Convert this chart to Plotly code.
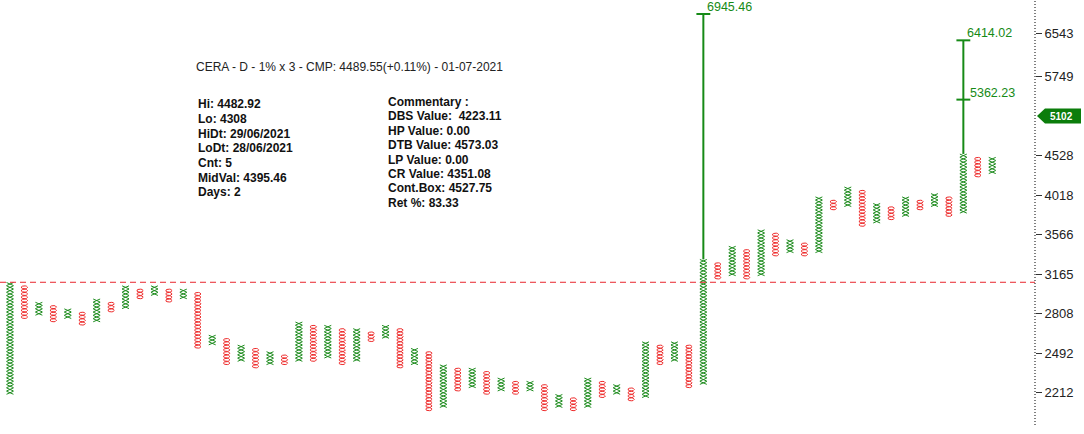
import math
import plotly.graph_objects as go

# ---------------- data ----------------
BOX_PCT = 1.0          # box size in percent
BASE_PRICE = 4308.0    # a known box level (Lo of last column)

col_type = ["X", "O"] * 34 + ["X"]
col_low = [2211, 2780, 2808, 2752, 2780, 2725, 2752, 2836, 2864, 2951, 2980, 2922, 2951,
           2542, 2567, 2418, 2443, 2394, 2418, 2418, 2443, 2443, 2467, 2418, 2443, 2593,
           2619, 2394, 2418, 2104, 2125, 2233, 2256, 2211, 2233, 2211, 2233, 2104, 2125,
           2104, 2125, 2189, 2211, 2168, 2189, 2418, 2443, 2256, 2279, 3132, 3164, 3132,
           3164, 3358, 3392, 3358, 3392, 3860, 3899, 3673, 3710, 3747, 3784, 3860, 3899,
           3784, 3822, 4265, 4308]
col_high = [3071, 3040, 2893, 2864, 2836, 2808, 2922, 2893, 3040, 3010, 3040, 3010, 3010,
            2980, 2619, 2593, 2542, 2517, 2492, 2467, 2725, 2698, 2698, 2672, 2672, 2645,
            2698, 2672, 2517, 2492, 2394, 2371, 2371, 2347, 2301, 2279, 2279, 2256, 2189,
            2168, 2301, 2279, 2256, 2233, 2567, 2542, 2567, 2542, 3292, 3260, 3426, 3392,
            3601, 3565, 3495, 3460, 3977, 3938, 4098, 4057, 3899, 3860, 3977, 3938, 4017,
            3977, 4528, 4483, 4483]

target_cols = [48, 66]
target_values = [[6945.46], [6414.02, 5362.23]]

ref_line_price = 3088
tag_price = 5102
tick_prices = [2212, 2492, 2808, 3165, 3566, 4018, 4528, 5749, 6543]

title_text = "CERA - D - 1% x 3 - CMP: 4489.55(+0.11%) - 01-07-2021"
left_lines = ["Hi: 4482.92", "Lo: 4308", "HiDt: 29/06/2021", "LoDt: 28/06/2021",
              "Cnt: 5", "MidVal: 4395.46", "Days: 2"]
right_lines = ["Commentary :", "DBS Value:  4223.11", "HP Value: 0.00", "DTB Value: 4573.03",
               "LP Value: 0.00", "CR Value: 4351.08", "Cont.Box: 4527.75", "Ret %: 83.33"]

# ---------------- construction ----------------
assert len(col_type) == len(col_low) == len(col_high)
R = 1 + BOX_PCT / 100.0
LNR = math.log(R)


def snap(p):
    return round(math.log(p / BASE_PRICE) / LNR)


def box_price(k):
    return BASE_PRICE * R ** k


HW = 0.24   # glyph half width (column units)
HH = 0.46   # glyph half height (boxes)
N_ELL = 14

xs_x, ys_x, xs_o, ys_o = [], [], [], []
col_top_k = []
for i, (t, lo, hi) in enumerate(zip(col_type, col_low, col_high)):
    k0, k1 = snap(lo), snap(hi)
    col_top_k.append(k1)
    for k in range(k0, k1 + 1):
        pb, pt = box_price(k - HH), box_price(k + HH)
        if t == "X":
            xs_x += [i - HW, i + HW, None, i - HW, i + HW, None]
            ys_x += [pb, pt, None, pt, pb, None]
        else:
            for j in range(N_ELL + 1):
                a = 2 * math.pi * j / N_ELL
                xs_o.append(i + HW * 0.92 * math.cos(a))
                ys_o.append(box_price(k + HH * math.sin(a)))
            xs_o.append(None)
            ys_o.append(None)

fig = go.Figure()
fig.add_trace(go.Scatter(x=xs_x, y=ys_x, mode="lines", line=dict(color="#1e8c1e", width=1),
                         hoverinfo="skip", showlegend=False))
fig.add_trace(go.Scatter(x=xs_o, y=ys_o, mode="lines", line=dict(color="#ee2a2a", width=1),
                         hoverinfo="skip", showlegend=False))

TGREEN = "#168a16"
annotations = []
for c, vals in zip(target_cols, target_values):
    start = box_price(col_top_k[c] + 0.5)
    tx = [c, c, None]
    ty = [start, max(vals), None]
    for n, v in enumerate(vals):
        tx += [c - 0.48, c + 0.48, None]
        ty += [v, v, None]
        annotations.append(dict(x=c, y=math.log10(v), xref="x", yref="y", text=f"{v:.2f}",
                                showarrow=False, xanchor="left", yanchor="middle",
                                xshift=2 if n == 0 else 5, yshift=7,
                                font=dict(size=12.5, color=TGREEN)))
    fig.add_trace(go.Scatter(x=tx, y=ty, mode="lines", line=dict(color=TGREEN, width=2),
                             hoverinfo="skip", showlegend=False))

PLOT_W, PLOT_H = 1035, 425


def px(x):
    return x / PLOT_W


def py(y):
    return 1 - y / PLOT_H


FONT = "Liberation Sans, Arial, sans-serif"
annotations.append(dict(x=px(194), y=py(67), xref="paper", yref="paper", text=title_text,
                        showarrow=False, xanchor="left", yanchor="middle",
                        font=dict(size=12, color="#222", family=FONT)))
for n, s in enumerate(left_lines):
    annotations.append(dict(x=px(196), y=py(104.5 + 14.6 * n), xref="paper", yref="paper",
                            text=f"<b>{s}</b>", showarrow=False, xanchor="left", yanchor="middle",
                            font=dict(size=12, color="#111", family=FONT)))
for n, s in enumerate(right_lines):
    annotations.append(dict(x=px(386), y=py(102 + 14.4 * n), xref="paper", yref="paper",
                            text=f"<b>{s}</b>", showarrow=False, xanchor="left", yanchor="middle",
                            font=dict(size=12, color="#111", family=FONT)))
annotations.append(dict(x=1, y=math.log10(tag_price), xref="paper", yref="y",
                        text=f"<b>{tag_price}</b>", showarrow=False, xanchor="center",
                        yanchor="middle", xshift=26,
                        font=dict(size=10, color="white", family=FONT)))

shapes = [
    dict(type="line", xref="paper", yref="y", x0=0, x1=1, y0=ref_line_price, y1=ref_line_price,
         line=dict(color="#e8262e", width=1, dash="6px,4px"), layer="above"),
    dict(type="line", xref="paper", yref="paper", x0=1, x1=1, y0=0, y1=1,
         line=dict(color="#000", width=1, dash="1px,2px")),
    dict(type="path", xref="paper", yref="y", xsizemode="pixel", ysizemode="pixel",
         xanchor=1, yanchor=tag_price,
         path="M 2 0 L 10 7.5 L 46 7.5 L 46 -7.5 L 10 -7.5 Z",
         fillcolor="#0b7d0b", line=dict(width=0)),
]

fig.update_layout(
    width=1084, height=434,
    margin=dict(l=0, r=1084 - PLOT_W, t=0, b=434 - PLOT_H),
    paper_bgcolor="white", plot_bgcolor="white",
    font=dict(family=FONT),
    showlegend=False,
    xaxis=dict(range=[-0.692, 70.96], visible=False),
    yaxis=dict(type="log", range=[3.30241, 3.86006], side="right",
               tickvals=tick_prices, ticktext=[str(t) for t in tick_prices],
               ticks="outside", ticklen=6, tickcolor="#333", tickwidth=1,
               tickfont=dict(size=13, color="#222", family=FONT),
               showgrid=False, zeroline=False, showline=False),
    annotations=annotations,
    shapes=shapes,
)

fig.write_html("out.html")
